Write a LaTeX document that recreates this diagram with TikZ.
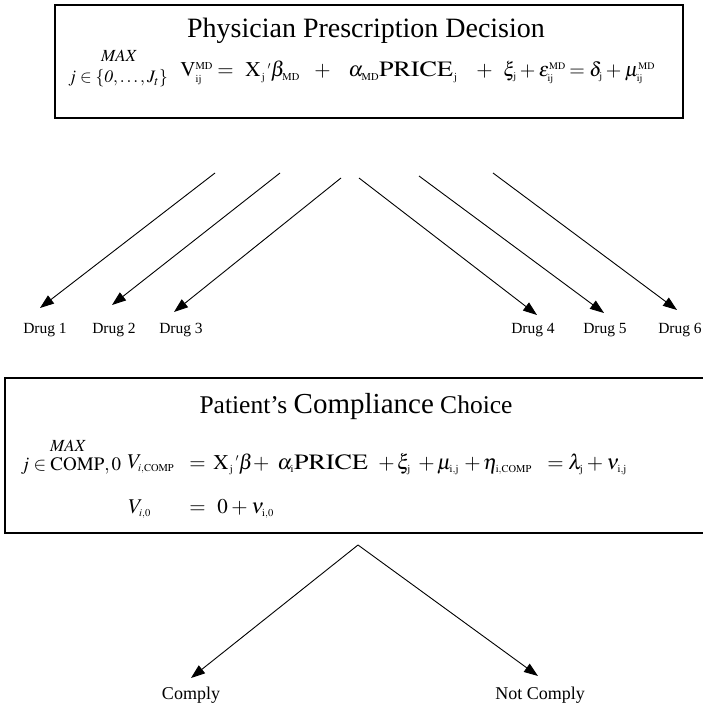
\documentclass[tikz,border=0pt]{standalone}
\usepackage{mathptmx}
\usepackage{graphicx}
\usepackage[no-math]{fontspec}
\setmainfont{Liberation Serif}
\usetikzlibrary{arrows.meta}
\DeclareMathSizes{21}{21}{10.5}{7.5}
\DeclareMathSizes{20}{20}{10}{7}
\medmuskip=3mu

\tikzset{
  box/.style={draw, line width=1.2pt, inner sep=0pt},
  eqn/.style={anchor=base west, inner sep=0pt, font=\fontsize{21}{24}\selectfont},
  lbl/.style={anchor=base, inner sep=0pt, font=\fontsize{15.5}{18}\selectfont},
}
\newcommand{\up}[1]{\mathrm{#1}}
\newcommand{\price}{\scalebox{1.24}[1.04]{$\mathrm{PRICE}$}}

\begin{document}
\begin{tikzpicture}[x=1pt, y=-1pt, >={Triangle[length=14pt,width=10pt]}, line width=0.9pt]
  \useasboundingbox (0,0) rectangle (703,706);

  \node[box, minimum width=628pt, minimum height=113pt] (mdbox) at (369,61.5) {};
  \node[anchor=base, inner sep=0pt, font=\fontsize{28}{32}\selectfont] (mdtitle) at (366,38) {Physician Prescription Decision};
  \node[eqn, anchor=base, font=\fontsize{17}{18}\selectfont] (mdmax) at (119,62) {$\mathit{MAX}$};
  \node[eqn, anchor=base, font=\fontsize{17.5}{20}\selectfont] (mdset) at (118,83) {$j\in\{\mathit{0},\ldots,J_t\}$};
  \node[eqn] (mdv) at (180,77) {$\up{V}_{\up{ij}}^{\up{MD}}$};
  \node[eqn] (mdeq) at (217,77) {$=$};
  \node[eqn] (mdx) at (245,77) {$\up{X}_{\,\up{j}}\,{}'\beta_{\up{MD}}$};
  \node[eqn] (mdplus1) at (314,77) {$+$};
  \node[eqn] (mdprice) at (348,77) {$\alpha_{\up{MD}}\price_{\,\up{j}}$};
  \node[eqn] (mdplus2) at (476,77) {$+$};
  \node[eqn, font=\fontsize{20}{24}\selectfont] (mdxi) at (503,77) {$\xi_{\up{j}} + \varepsilon_{\up{ij}}^{\up{MD}}$};
  \node[eqn, font=\fontsize{20}{24}\selectfont] (mdrhs) at (569,77) {$= \delta_{\up{j}} + \mu_{\up{ij}}^{\up{MD}}$};

  \coordinate (s1) at (215,173);
  \coordinate (s2) at (280,173);
  \coordinate (s3) at (341,178);
  \coordinate (s4) at (359,178);
  \coordinate (s5) at (419,176);
  \coordinate (s6) at (493,173);
  \coordinate (t1) at (40,308);
  \coordinate (t2) at (112,305);
  \coordinate (t3) at (174,312);
  \coordinate (t4) at (537,315);
  \coordinate (t5) at (604,313);
  \coordinate (t6) at (677,310);
  \path[->]
  (s1) edge (t1)
  (s2) edge (t2)
  (s3) edge (t3)
  (s4) edge (t4)
  (s5) edge (t5)
  (s6) edge (t6)
  ;
  \node[lbl] (drug1) at (45,333) {Drug 1};
  \node[lbl] (drug2) at (114,333) {Drug 2};
  \node[lbl] (drug3) at (181,333) {Drug 3};
  \node[lbl] (drug4) at (533,333) {Drug 4};
  \node[lbl] (drug5) at (605,333) {Drug 5};
  \node[lbl] (drug6) at (680,333) {Drug 6};

  \node[box, minimum width=703pt, minimum height=155pt] (ptbox) at (356.5,455.5) {};
  \node[anchor=base, inner sep=0pt, font=\fontsize{25.5}{30}\selectfont] (pttitle) at (356,413) {Patient's {\fontsize{29}{32}\selectfont Compliance} Choice};
  \node[eqn, anchor=base, font=\fontsize{17}{18}\selectfont] (ptmax) at (68,451) {$\mathit{MAX}$};
  \node[eqn, anchor=base, font=\fontsize{19}{20}\selectfont] (ptset) at (71,470) {$j\in\up{COMP},0$};
  \node[eqn] (ptv1) at (127,468) {$V_{i,\up{COMP}}$};
  \node[eqn] (pteq1) at (189,469) {$=$};
  \node[eqn] (ptx) at (213,469) {$\up{X}_{\,\up{j}}\,{}'\beta+$};
  \node[eqn] (ptprice) at (277,469) {$\alpha_{\up{i}}\price$};
  \node[eqn] (ptxi) at (378,469) {$+\,\xi_{\up{j}}$};
  \node[eqn] (ptmu) at (418,469) {$+\,\mu_{\up{i,j}}$};
  \node[eqn] (pteta) at (464,469) {$+\,\eta_{\up{i,COMP}}$};
  \node[eqn] (ptrhs) at (547,469) {$= \lambda_{\up{j}} + \nu_{\up{i,j}}$};
  \node[eqn] (ptv0) at (128,513) {$V_{i,0}$};
  \node[eqn] (pteq0) at (189,513) {$=$};
  \node[eqn] (ptzero) at (217,513) {$0 + \nu_{\up{i,0}}$};

  \coordinate (split) at (358,545);
  \coordinate (cy) at (191,678);
  \coordinate (ncy) at (538,676);
  \path[->]
  (split) edge (cy)
          edge (ncy)
  ;
  \node[lbl, font=\fontsize{18}{20}\selectfont] (comply) at (191,699) {Comply};
  \node[lbl, font=\fontsize{18}{20}\selectfont] (notcomply) at (540,699) {Not Comply};
\end{tikzpicture}
\end{document}
